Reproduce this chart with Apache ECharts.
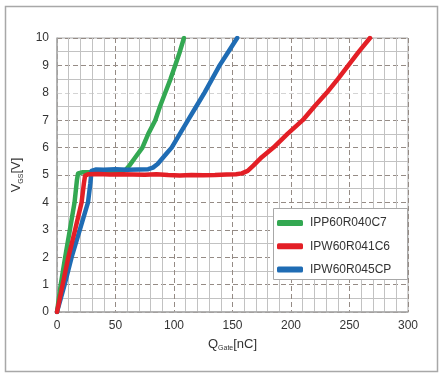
<!DOCTYPE html>
<html>
<head>
<meta charset="utf-8">
<script src="https://cdn.jsdelivr.net/npm/echarts@6/dist/echarts.min.js"></script>
<style>
html,body{margin:0;padding:0;background:#fff;}
#c{width:448px;height:380px;}
</style>
</head>
<body>
<div id="c"></div>
<script>
// Series names
const seriesNames = ['IPP60R040C7', 'IPW60R041C6', 'IPW60R045CP'];
// [Q_Gate nC, V_GS V]
const greenData = [[0,0],[3.2,1],[7,2],[11,3],[15,4],[17,4.8],[18,5.06],[22,5.1],[30,5.1],[40,5.12],[50,5.12],[56,5.14],[59,5.2],[62,5.35],[67,5.65],[73,6],[78,6.5],[84,7],[88,7.5],[92.5,8],[97,8.5],[101,9],[105,9.5],[108.5,10]];
const redData = [[0,0],[4.8,1],[9.7,2],[15.5,3],[21,4],[23,4.7],[24,4.98],[27,5.03],[35,5.04],[45,5.02],[55,5.03],[65,5.02],[75,5.01],[85,5.03],[95,5.0],[105,4.98],[115,5.0],[125,4.99],[135,5.0],[145,5.02],[153,5.03],[158,5.06],[163,5.15],[168,5.35],[175,5.65],[185,6],[197,6.5],[210,7],[220,7.5],[230.5,8],[240,8.5],[249,9],[258,9.5],[267.5,10]];
const blueData = [[0,0],[6.5,1],[12.5,2],[19.5,3],[26.5,4],[28.5,4.7],[29.5,5.15],[33,5.2],[40,5.19],[50,5.21],[60,5.19],[70,5.2],[78,5.21],[82,5.27],[86,5.4],[90,5.6],[94,5.8],[98,6],[105,6.5],[112,7],[119,7.5],[126,8],[132.5,8.5],[139,9],[146.5,9.5],[154,10]];
// Axis ranges / ticks
const xMin = 0, xMax = 300, xStep = 50;
const yMin = 0, yMax = 10, yStep = 1;

const colors = ['#33a852', '#e31f26', '#1f6cb4'];
const font = 'Liberation Sans, Arial, sans-serif';

const chart = echarts.init(document.getElementById('c'), null, {renderer: 'canvas'});
const mkSeries = (i, data, z) => ({
  name: seriesNames[i], type: 'line', data: data, showSymbol: false, symbol: 'none', z: z,
  lineStyle: {width: 4.5, color: colors[i], cap: 'round', join: 'round'}, itemStyle: {color: colors[i]}
});
chart.setOption({
  animation: false,
  backgroundColor: '#fff',
  color: colors,
  graphic: [
    {type: 'rect', z: 0, shape: {x: 5.5, y: 6.5, width: 432, height: 365}, style: {fill: 'none', stroke: '#a8a8a8', lineWidth: 1.5}},
    {type: 'rect', z: 3, shape: {x: 273.5, y: 208.5, width: 134, height: 71}, style: {fill: '#fff', stroke: '#a8a8a8', lineWidth: 1}}
  ],
  grid: {left: 57, right: 40, top: 38, bottom: 68, show: true, borderColor: '#a8a8a8', borderWidth: 1, backgroundColor: 'transparent'},
  legend: {
    orient: 'vertical', left: 273, top: 208, padding: [8, 0, 0, 4],
    itemWidth: 26, itemHeight: 6, itemGap: 9.3, icon: 'roundRect',
    textStyle: {fontFamily: font, fontSize: 12, color: '#333', lineHeight: 14, padding: [0, 0, 0, 2]},
    data: seriesNames
  },
  xAxis: {
    type: 'value', min: xMin, max: xMax, interval: xStep,
    name: '{a|Q}{b|Gate}{a|[nC]}', nameLocation: 'middle', nameGap: 24,
    nameTextStyle: {rich: {a: {fontFamily: font, fontSize: 13, color: '#333', lineHeight: 16}, b: {fontFamily: font, fontSize: 7, color: '#333', verticalAlign: 'bottom', lineHeight: 12}}},
    axisLine: {show: true, lineStyle: {color: '#a8a8a8', width: 1.5}},
    axisTick: {show: false},
    axisLabel: {fontFamily: font, fontSize: 12, color: '#333', margin: 8},
    splitLine: {show: true, lineStyle: {color: '#958b85', type: [5, 3], width: 1}},
    minorTick: {show: false, splitNumber: 5},
    minorSplitLine: {show: true, lineStyle: {color: '#c2c2c2', width: 1}}
  },
  yAxis: {
    type: 'value', min: yMin, max: yMax, interval: yStep,
    name: '{a|V}{b|GS}{a|[V]}', nameLocation: 'middle', nameGap: 28,
    nameTextStyle: {rich: {a: {fontFamily: font, fontSize: 13, color: '#333', lineHeight: 16}, b: {fontFamily: font, fontSize: 7, color: '#333', verticalAlign: 'bottom', lineHeight: 12}}},
    axisLine: {show: true, lineStyle: {color: '#a8a8a8', width: 1.5}},
    axisTick: {show: false},
    axisLabel: {fontFamily: font, fontSize: 12, color: '#333', margin: 8},
    splitLine: {show: true, lineStyle: {color: ['#958b85','#958b85','#958b85','#958b85','#958b85','#958b85','#958b85','#958b85','#d4d4d4','#958b85','#958b85'], type: [5, 3], width: 1}},
    minorTick: {show: false, splitNumber: 2},
    minorSplitLine: {show: true, lineStyle: {color: '#c2c2c2', width: 1}}
  },
  series: [
    mkSeries(0, greenData, 2),
    mkSeries(1, redData, 4),
    mkSeries(2, blueData, 3)
  ]
});
</script>
</body>
</html>
